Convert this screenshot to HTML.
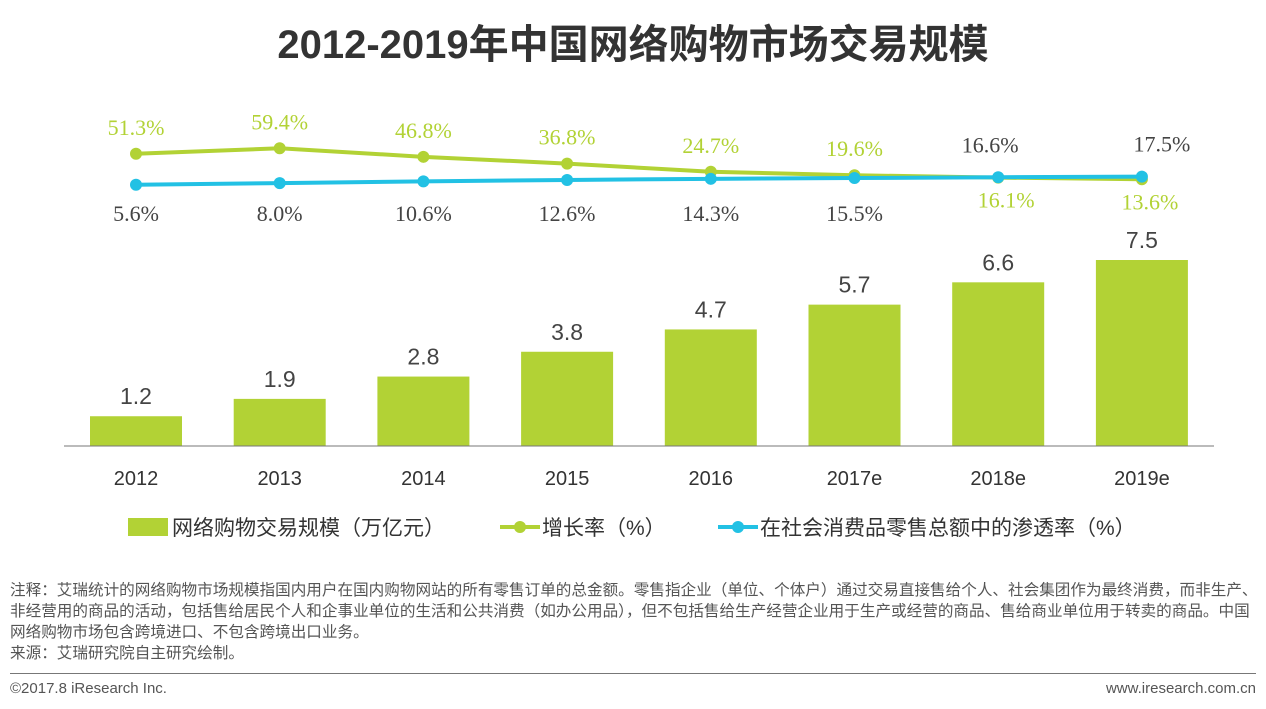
<!DOCTYPE html>
<html><head><meta charset="utf-8"><style>
body{margin:0;width:1266px;height:709px;background:#fff;overflow:hidden;font-family:"Liberation Sans","Noto Sans CJK SC",sans-serif}
.t{position:absolute}
</style></head><body>
<div class="t" style="left:0;width:1266px;top:12px;text-align:center;font-size:40px;font-weight:bold;color:#333;font-family:'Liberation Sans','Noto Sans CJK SC',sans-serif">2012-2019年中国网络购物市场交易规模</div>
<svg class="t" style="left:0;top:0" width="1266" height="560" id="chart"></svg>
<div class="t" style="left:10px;top:580px;font-size:15.6px;line-height:21px;color:#555;width:1260px;white-space:nowrap">注释：艾瑞统计的网络购物市场规模指国内用户在国内购物网站的所有零售订单的总金额。零售指企业（单位、个体户）通过交易直接售给个人、社会集团作为最终消费，而非生产、<br>非经营用的商品的活动，包括售给居民个人和企事业单位的生活和公共消费（如办公用品），但不包括售给生产经营企业用于生产或经营的商品、售给商业单位用于转卖的商品。中国<br>网络购物市场包含跨境进口、不包含跨境出口业务。<br>来源：艾瑞研究院自主研究绘制。</div>
<div class="t" style="left:10px;top:673px;width:1246px;height:1px;background:#777"></div>
<div class="t" style="left:10px;top:680px;font-size:15px;color:#555">©2017.8 iResearch Inc.</div>
<div class="t" style="right:10px;top:680px;font-size:15px;color:#555">www.iresearch.com.cn</div>
<script>
const categories=["2012","2013","2014","2015","2016","2017e","2018e","2019e"];
const scale=[1.2,1.9,2.8,3.8,4.7,5.7,6.6,7.5];
const growth=[51.3,59.4,46.8,36.8,24.7,19.6,16.1,13.6];
const penetration=[5.6,8.0,10.6,12.6,14.3,15.5,16.6,17.5];
const NS="http://www.w3.org/2000/svg";
const svg=document.getElementById('chart');
const G="#b2d235",B="#22c1e4";
const x=i=>136+i*143.7;
const yb=v=>446-v*24.8;
const yl=v=>188.5-v*0.677;
function mk(t,a,txt){const e=document.createElementNS(NS,t);for(const k in a)e.setAttribute(k,a[k]);if(txt!==undefined)e.textContent=txt;svg.appendChild(e);return e;}
scale.forEach((v,i)=>{
 const r=mk('rect',{x:x(i)-46,y:yb(v),width:92,height:446-yb(v),fill:G});
 
 
 const t=mk('text',{x:x(i),y:yb(v)-12,'text-anchor':'middle','font-size':23,fill:'#444','font-family':'Liberation Sans,sans-serif'},v.toFixed(1));
 
 
 const c=mk('text',{x:x(i),y:485,'text-anchor':'middle','font-size':20,fill:'#333','font-family':'Liberation Sans,sans-serif'},categories[i]);
 
 
});
const ax=mk('line',{x1:64,x2:1214,y1:446,y2:446,stroke:'#777','stroke-width':1});


function series(arr,col,name){
 const p=mk('polyline',{points:arr.map((v,i)=>x(i)+','+yl(v)).join(' '),fill:'none',stroke:col,'stroke-width':4});
 
 
 arr.forEach((v,i)=>{const c=mk('circle',{cx:x(i),cy:yl(v),r:6,fill:col});
 
 });
}
series(growth,G,'growth');
series(penetration,B,'penetration');
const sf='Liberation Serif,serif';
growth.forEach((v,i)=>{
 const above=i<6;
 const t=mk('text',{x:x(i)+(above?0:8),y:above?yl(v)-19:yl(v)+30,'text-anchor':'middle','font-size':22,fill:G,'font-family':sf},v.toFixed(1)+'%');
 
 
});
penetration.forEach((v,i)=>{
 const above=i>=6;
 const t=mk('text',{x:x(i)+(above?-8+(i==7?28:0):0),y:above?yl(v)-25:221,'text-anchor':'middle','font-size':22,fill:'#444','font-family':sf},v.toFixed(1)+'%');
 
 
});
let lg=mk('rect',{x:128,y:518,width:40,height:18,fill:G});
lg=mk('text',{x:172,y:535,'font-size':21,fill:'#333'},'网络购物交易规模（万亿元）');
lg=mk('line',{x1:500,x2:540,y1:527,y2:527,stroke:G,'stroke-width':4});
lg=mk('circle',{cx:520,cy:527,r:6,fill:G});
lg=mk('text',{x:542,y:535,'font-size':21,fill:'#333'},'增长率（%）');
lg=mk('line',{x1:718,x2:758,y1:527,y2:527,stroke:B,'stroke-width':4});
lg=mk('circle',{cx:738,cy:527,r:6,fill:B});
lg=mk('text',{x:760,y:535,'font-size':21,fill:'#333'},'在社会消费品零售总额中的渗透率（%）');
</script>
</body></html>
